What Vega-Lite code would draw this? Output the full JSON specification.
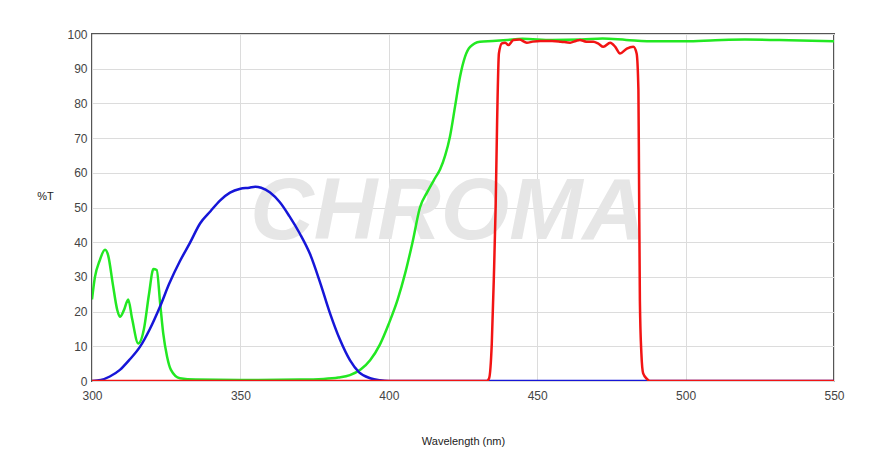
{
  "$schema": "https://vega.github.io/schema/vega-lite/v6.json",
  "autosize": "none",
  "width": 742,
  "height": 347,
  "padding": {"left": 92, "top": 34, "right": 54, "bottom": 68},
  "background": "white",
  "config": {
    "view": {"stroke": "#555555", "strokeWidth": 2},
    "font": "Liberation Sans",
    "axis": {
      "labelFont": "Liberation Sans",
      "titleFont": "Liberation Sans",
      "labelColor": "#444444",
      "titleColor": "#222222",
      "labelFontSize": 12,
      "titleFontSize": 11,
      "titleFontWeight": "normal",
      "gridColor": "#dcdcdc",
      "gridWidth": 1,
      "domain": false,
      "ticks": false,
      "labelFlush": false,
      "labelOverlap": false
    }
  },
  "datasets": {
    "curves": [
      {"s": "Excitation", "nm": 300, "t": 0},
      {"s": "Excitation", "nm": 303, "t": 0.3},
      {"s": "Excitation", "nm": 306, "t": 1.3},
      {"s": "Excitation", "nm": 309.4, "t": 3.2},
      {"s": "Excitation", "nm": 312.5, "t": 6},
      {"s": "Excitation", "nm": 316.2, "t": 9.9},
      {"s": "Excitation", "nm": 319.5, "t": 15},
      {"s": "Excitation", "nm": 322.9, "t": 21.4},
      {"s": "Excitation", "nm": 326, "t": 28},
      {"s": "Excitation", "nm": 329.6, "t": 34.5},
      {"s": "Excitation", "nm": 333, "t": 39.8},
      {"s": "Excitation", "nm": 336.4, "t": 45.4},
      {"s": "Excitation", "nm": 340, "t": 49},
      {"s": "Excitation", "nm": 343.1, "t": 52},
      {"s": "Excitation", "nm": 346.5, "t": 54.3},
      {"s": "Excitation", "nm": 350, "t": 55.4},
      {"s": "Excitation", "nm": 353, "t": 55.7},
      {"s": "Excitation", "nm": 355, "t": 56},
      {"s": "Excitation", "nm": 357, "t": 55.7},
      {"s": "Excitation", "nm": 360, "t": 54.3},
      {"s": "Excitation", "nm": 363.3, "t": 51.5},
      {"s": "Excitation", "nm": 366.5, "t": 47.5},
      {"s": "Excitation", "nm": 370, "t": 42.5},
      {"s": "Excitation", "nm": 373.5, "t": 36.5},
      {"s": "Excitation", "nm": 377, "t": 28},
      {"s": "Excitation", "nm": 380.2, "t": 19.5},
      {"s": "Excitation", "nm": 383.5, "t": 12},
      {"s": "Excitation", "nm": 386.9, "t": 6},
      {"s": "Excitation", "nm": 390, "t": 2.5},
      {"s": "Excitation", "nm": 393.7, "t": 0.8},
      {"s": "Excitation", "nm": 397, "t": 0.2},
      {"s": "Excitation", "nm": 400, "t": 0},
      {"s": "Excitation", "nm": 550, "t": 0},

      {"s": "Dichroic", "nm": 300, "t": 23.5},
      {"s": "Dichroic", "nm": 301, "t": 30},
      {"s": "Dichroic", "nm": 302.5, "t": 34.5},
      {"s": "Dichroic", "nm": 304.4, "t": 37.8},
      {"s": "Dichroic", "nm": 305.5, "t": 36},
      {"s": "Dichroic", "nm": 307, "t": 28},
      {"s": "Dichroic", "nm": 308.5, "t": 20.5},
      {"s": "Dichroic", "nm": 309.4, "t": 18.5},
      {"s": "Dichroic", "nm": 310.8, "t": 20.5},
      {"s": "Dichroic", "nm": 312.2, "t": 23.5},
      {"s": "Dichroic", "nm": 313.5, "t": 18},
      {"s": "Dichroic", "nm": 315.6, "t": 10.8},
      {"s": "Dichroic", "nm": 317.5, "t": 15},
      {"s": "Dichroic", "nm": 319.2, "t": 25},
      {"s": "Dichroic", "nm": 320.7, "t": 32.3},
      {"s": "Dichroic", "nm": 321.8, "t": 32},
      {"s": "Dichroic", "nm": 323, "t": 22},
      {"s": "Dichroic", "nm": 324, "t": 13.7},
      {"s": "Dichroic", "nm": 325.3, "t": 7},
      {"s": "Dichroic", "nm": 326.6, "t": 3.2},
      {"s": "Dichroic", "nm": 329.6, "t": 0.8},
      {"s": "Dichroic", "nm": 335, "t": 0.4},
      {"s": "Dichroic", "nm": 350, "t": 0.3},
      {"s": "Dichroic", "nm": 370, "t": 0.4},
      {"s": "Dichroic", "nm": 378, "t": 0.6},
      {"s": "Dichroic", "nm": 383, "t": 1},
      {"s": "Dichroic", "nm": 386.9, "t": 1.7},
      {"s": "Dichroic", "nm": 390.5, "t": 3.3},
      {"s": "Dichroic", "nm": 393.7, "t": 6},
      {"s": "Dichroic", "nm": 397, "t": 10.5},
      {"s": "Dichroic", "nm": 400, "t": 16.5},
      {"s": "Dichroic", "nm": 403, "t": 23.5},
      {"s": "Dichroic", "nm": 405.5, "t": 31},
      {"s": "Dichroic", "nm": 408, "t": 40},
      {"s": "Dichroic", "nm": 410.5, "t": 50},
      {"s": "Dichroic", "nm": 413, "t": 54.5},
      {"s": "Dichroic", "nm": 415.6, "t": 58.5},
      {"s": "Dichroic", "nm": 417.3, "t": 61},
      {"s": "Dichroic", "nm": 419, "t": 65},
      {"s": "Dichroic", "nm": 420.6, "t": 70.4},
      {"s": "Dichroic", "nm": 422.3, "t": 79},
      {"s": "Dichroic", "nm": 424, "t": 87.7},
      {"s": "Dichroic", "nm": 425.7, "t": 93.5},
      {"s": "Dichroic", "nm": 427.4, "t": 96.3},
      {"s": "Dichroic", "nm": 430.7, "t": 97.8},
      {"s": "Dichroic", "nm": 435, "t": 98},
      {"s": "Dichroic", "nm": 440, "t": 98.3},
      {"s": "Dichroic", "nm": 445, "t": 98.6},
      {"s": "Dichroic", "nm": 455, "t": 98.3},
      {"s": "Dichroic", "nm": 465, "t": 98.4},
      {"s": "Dichroic", "nm": 472, "t": 98.7},
      {"s": "Dichroic", "nm": 480, "t": 98.3},
      {"s": "Dichroic", "nm": 490, "t": 97.9},
      {"s": "Dichroic", "nm": 500, "t": 97.9},
      {"s": "Dichroic", "nm": 510, "t": 98.2},
      {"s": "Dichroic", "nm": 520, "t": 98.4},
      {"s": "Dichroic", "nm": 535, "t": 98.2},
      {"s": "Dichroic", "nm": 550, "t": 97.9},

      {"s": "Emission", "nm": 300, "t": 0},
      {"s": "Emission", "nm": 433, "t": 0},
      {"s": "Emission", "nm": 433.8, "t": 0.8},
      {"s": "Emission", "nm": 434.7, "t": 10.8},
      {"s": "Emission", "nm": 435.4, "t": 30},
      {"s": "Emission", "nm": 436, "t": 50.2},
      {"s": "Emission", "nm": 436.5, "t": 75},
      {"s": "Emission", "nm": 437.1, "t": 94.4},
      {"s": "Emission", "nm": 438.1, "t": 97.3},
      {"s": "Emission", "nm": 439.2, "t": 97.5},
      {"s": "Emission", "nm": 440.3, "t": 96.8},
      {"s": "Emission", "nm": 442, "t": 98.3},
      {"s": "Emission", "nm": 444, "t": 98.4},
      {"s": "Emission", "nm": 446.5, "t": 97.5},
      {"s": "Emission", "nm": 448.5, "t": 97.8},
      {"s": "Emission", "nm": 451, "t": 98},
      {"s": "Emission", "nm": 455, "t": 98},
      {"s": "Emission", "nm": 458, "t": 97.8},
      {"s": "Emission", "nm": 461.1, "t": 97.5},
      {"s": "Emission", "nm": 463, "t": 98},
      {"s": "Emission", "nm": 464.4, "t": 98.3},
      {"s": "Emission", "nm": 466.5, "t": 97.8},
      {"s": "Emission", "nm": 468.9, "t": 97.8},
      {"s": "Emission", "nm": 470.5, "t": 97.3},
      {"s": "Emission", "nm": 472.3, "t": 96.3},
      {"s": "Emission", "nm": 474.6, "t": 97.5},
      {"s": "Emission", "nm": 476.3, "t": 96.3},
      {"s": "Emission", "nm": 477.9, "t": 94.4},
      {"s": "Emission", "nm": 480.2, "t": 95.8},
      {"s": "Emission", "nm": 482.4, "t": 96.3},
      {"s": "Emission", "nm": 483.5, "t": 94.4},
      {"s": "Emission", "nm": 484.1, "t": 83.9},
      {"s": "Emission", "nm": 484.3, "t": 60},
      {"s": "Emission", "nm": 484.6, "t": 23},
      {"s": "Emission", "nm": 485.1, "t": 8},
      {"s": "Emission", "nm": 485.7, "t": 2.2},
      {"s": "Emission", "nm": 487, "t": 0.6},
      {"s": "Emission", "nm": 488, "t": 0},
      {"s": "Emission", "nm": 550, "t": 0}
    ],
    "mark": [
      {"nm": 420, "t": 48.5, "label": "CHROMA"}
    ]
  },
  "encoding": {
    "x": {"field": "nm", "type": "quantitative", "scale": {"domain": [300, 550], "nice": false}, "axis": {"tickCount": 5, "labelPadding": 9, "title": "Wavelength (nm)", "titleY": 60, "titleBaseline": "middle"}},
    "y": {"field": "t", "type": "quantitative", "scale": {"domain": [0, 100], "nice": false}, "axis": {"tickCount": 10, "tickMinStep": 10, "labelPadding": 5, "title": "%T", "titleAngle": 0, "titleX": -47, "titleY": 162, "titleAlign": "center", "titleBaseline": "middle"}}
  },
  "layer": [
    {
      "data": {"name": "mark"},
      "mark": {"type": "text", "font": "Liberation Sans", "fontWeight": "bold", "fontStyle": "italic", "fontSize": 88, "color": "#e6e6e6", "align": "center", "baseline": "middle"},
      "encoding": {
        "text": {"field": "label"}
      }
    },
    {
      "data": {"name": "curves"},
      "transform": [{"filter": "datum.s === 'Dichroic'"}],
      "mark": {"type": "line", "color": "#22e822", "strokeWidth": 2.5, "clip": true, "interpolate": "monotone"}
    },
    {
      "data": {"name": "curves"},
      "transform": [{"filter": "datum.s === 'Excitation'"}],
      "mark": {"type": "line", "color": "#1616d8", "strokeWidth": 2.5, "clip": true, "interpolate": "monotone"}
    },
    {
      "data": {"name": "curves"},
      "transform": [{"filter": "datum.s === 'Emission'"}],
      "mark": {"type": "line", "color": "#f21414", "strokeWidth": 2.5, "clip": true, "interpolate": "monotone"}
    }
  ]
}
